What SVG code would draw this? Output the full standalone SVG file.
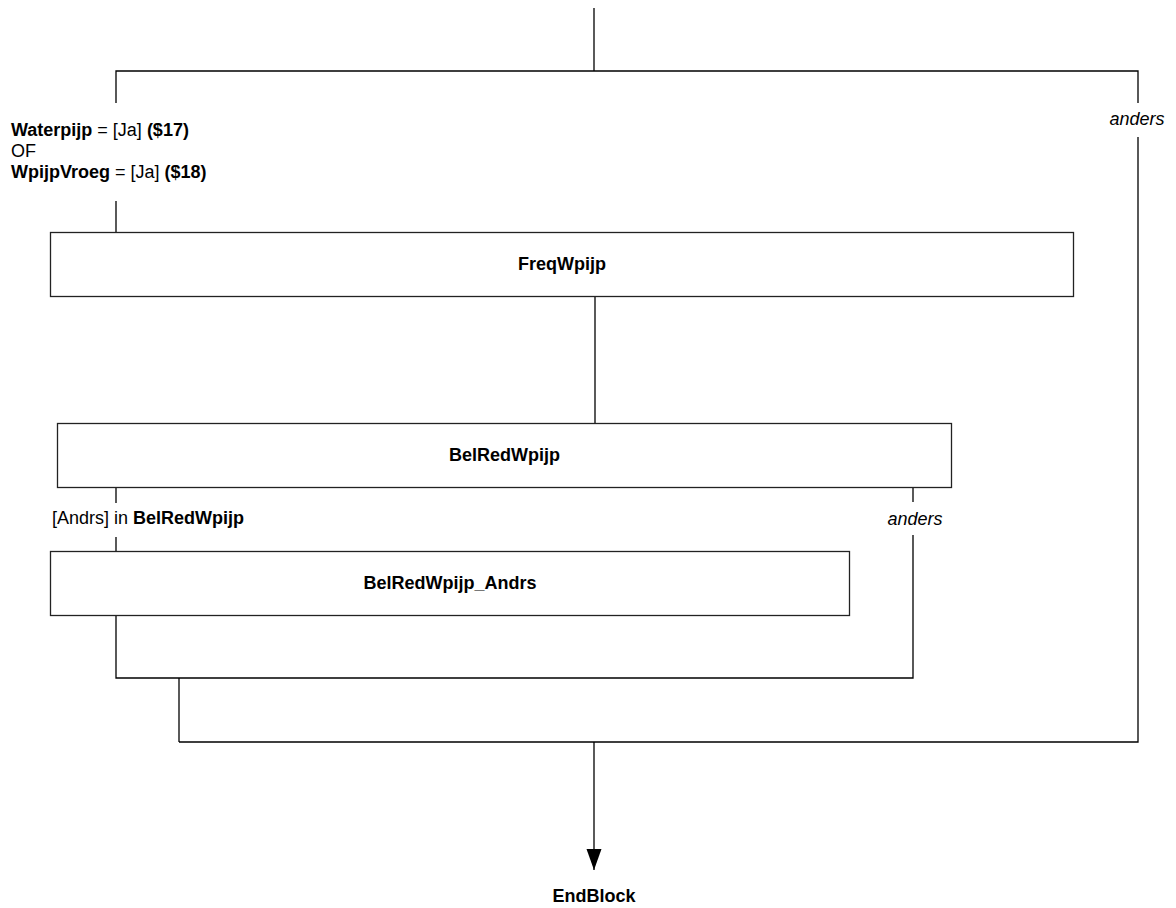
<svg xmlns="http://www.w3.org/2000/svg" width="1176" height="908" viewBox="0 0 1176 908">
<style>
text{font-family:"Liberation Sans",Arial,sans-serif;font-size:18px;fill:#000}
.b{font-weight:bold}
.i{font-style:italic}
.box{fill:#fff;stroke:#222;stroke-width:1.3}
.ln{stroke:#000;stroke-width:1.3;fill:none}
</style>
<defs>
<marker id="arr" markerWidth="22" markerHeight="16" refX="21" refY="8" orient="auto" markerUnits="userSpaceOnUse" viewBox="0 0 22 16">
<path d="M0,0.5 L21,8 L0,15.5 Z" fill="#000"/>
</marker>
</defs>
<g id="connectors">
<path class="ln" d="M594,8 V71"/>
<path class="ln" d="M116,103 V71 H1138 V103"/>
<path class="ln" d="M116,201 V232"/>
<path class="ln" d="M1138,137 V742 H179"/>
<path class="ln" d="M595,296 V423"/>
<path class="ln" d="M116,487 V503"/>
<path class="ln" d="M116,537 V551"/>
<path class="ln" d="M913,487 V502"/>
<path class="ln" d="M116,615 V678 H913 V535"/>
<path class="ln" d="M179,678 V742"/>
<path class="ln" d="M594,742 V870" marker-end="url(#arr)"/>
</g>
<g id="cond1">
<text x="11" y="136"><tspan class="b">Waterpijp</tspan> = [Ja] <tspan class="b">($17)</tspan></text>
<text x="11" y="157">OF</text>
<text x="11" y="178"><tspan class="b">WpijpVroeg</tspan> = [Ja] <tspan class="b">($18)</tspan></text>
</g>
<g id="anders1"><text class="i" x="1137" y="125" text-anchor="middle">anders</text></g>
<g id="FreqWpijp">
<rect class="box" x="50.5" y="232.5" width="1023" height="64"/>
<text class="b" x="562" y="270" text-anchor="middle">FreqWpijp</text>
</g>
<g id="BelRedWpijp">
<rect class="box" x="57.5" y="423.5" width="894" height="64"/>
<text class="b" x="504.5" y="461" text-anchor="middle">BelRedWpijp</text>
</g>
<g id="cond2"><text x="52" y="524">[Andrs] in <tspan class="b">BelRedWpijp</tspan></text></g>
<g id="anders2"><text class="i" x="915" y="525" text-anchor="middle">anders</text></g>
<g id="BelRedWpijp_Andrs">
<rect class="box" x="50.5" y="551.5" width="799" height="64"/>
<text class="b" x="450" y="589" text-anchor="middle">BelRedWpijp_Andrs</text>
</g>
<g id="EndBlock"><text class="b" x="594" y="902" text-anchor="middle">EndBlock</text></g>
</svg>
